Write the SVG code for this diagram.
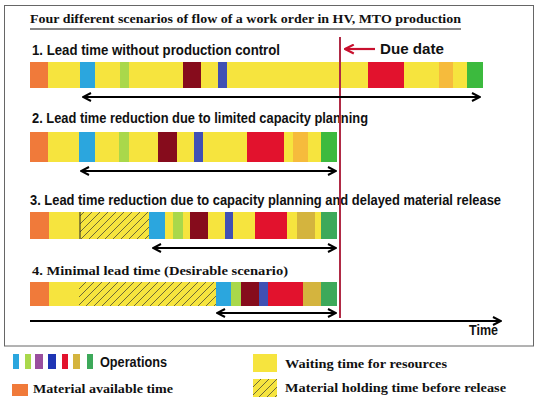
<svg xmlns="http://www.w3.org/2000/svg" width="556" height="408" viewBox="0 0 556 408">
<style>
.o{fill:#f07a3a}.y{fill:#f6e43e}.b{fill:#2ba6de}.lg{fill:#a9d84b}.dr{fill:#860c1c}.ind{fill:#4050b4}.r{fill:#e2122d}.or{fill:#f6bb3c}.g{fill:#3cba3e}.gd{fill:#d4b43e}.g2{fill:#3da95a}.pu{fill:#9a4f9e}.nv{fill:#1f35b4}
.h{fill:url(#hatch)}
.sans{font-family:"Liberation Sans",Arial,sans-serif;font-weight:bold;fill:#111}
.serif{font-family:"Liberation Serif","DejaVu Serif",serif;font-weight:bold;fill:#111}
.arr{stroke:#000;stroke-width:2;fill:none}
</style>
<defs>
<pattern id="hatch" patternUnits="userSpaceOnUse" width="8" height="8">
<rect width="8" height="8" fill="#f6e43e"/>
<path d="M-2,10 L10,-2 M-2,2 L2,-2 M6,10 L10,6" stroke="#333" stroke-width="0.7"/>
</pattern>
<marker id="ah" viewBox="0 0 10 10" refX="9" refY="5" markerWidth="5" markerHeight="5" orient="auto-start-reverse" markerUnits="strokeWidth">
<path d="M1,1 L9,5 L1,9" fill="none" stroke="#000" stroke-width="2"/>
</marker>
<marker id="ahr" viewBox="0 0 10 10" refX="9" refY="5" markerWidth="5" markerHeight="5" orient="auto-start-reverse" markerUnits="strokeWidth">
<path d="M1,1 L9,5 L1,9" fill="none" stroke="#c8102e" stroke-width="2"/>
</marker>
</defs>
<rect width="556" height="408" fill="#fff"/>
<rect x="4.5" y="5.5" width="529" height="340.5" fill="none" stroke="#666" stroke-width="1"/>
<g id="title">
<text class="serif" x="30" y="23" font-size="13.5" textLength="431" lengthAdjust="spacingAndGlyphs">Four different scenarios of flow of a work order in HV, MTO production</text>
<line x1="30" y1="29" x2="461" y2="29" stroke="#111" stroke-width="1.2"/>
</g>
<g id="scenario1">
<text class="sans" x="32" y="55" font-size="14" textLength="248" lengthAdjust="spacingAndGlyphs">1. Lead time without production control</text>
<rect class="y" x="30" y="62" width="453" height="26"/>
<rect class="o" x="30" y="62" width="18" height="26"/>
<rect class="b" x="80" y="62" width="15" height="26"/>
<rect class="lg" x="120" y="62" width="9" height="26"/>
<rect class="dr" x="183" y="62" width="18" height="26"/>
<rect class="ind" x="218" y="62" width="9" height="26"/>
<rect class="r" x="368" y="62" width="36" height="26"/>
<rect class="or" x="439" y="62" width="14" height="26"/>
<rect class="g" x="467" y="62" width="16" height="26"/>
</g>
<g id="scenario2">
<text class="sans" x="32" y="123" font-size="14" textLength="336" lengthAdjust="spacingAndGlyphs">2. Lead time reduction due to limited capacity planning</text>
<rect class="y" x="30" y="132" width="307" height="30"/>
<rect class="o" x="30" y="132" width="18" height="30"/>
<rect class="b" x="79" y="132" width="16" height="30"/>
<rect class="lg" x="119" y="132" width="10" height="30"/>
<rect class="dr" x="158" y="132" width="19" height="30"/>
<rect class="ind" x="194" y="132" width="9" height="30"/>
<rect class="r" x="247" y="132" width="37" height="30"/>
<rect class="or" x="293" y="132" width="15" height="30"/>
<rect class="g" x="321" y="132" width="16" height="30"/>
</g>
<g id="scenario3">
<text class="sans" x="30" y="205" font-size="14" textLength="471" lengthAdjust="spacingAndGlyphs">3. Lead time reduction due to capacity planning and delayed material release</text>
<rect class="y" x="30" y="212" width="307" height="27"/>
<rect class="o" x="30" y="212" width="19" height="27"/>
<rect class="h" x="80" y="212" width="69" height="27"/>
<line x1="80" y1="212" x2="80" y2="239" stroke="#222" stroke-width="1"/>
<rect class="b" x="149" y="212" width="16" height="27"/>
<rect class="lg" x="173" y="212" width="10" height="27"/>
<rect class="dr" x="190" y="212" width="18" height="27"/>
<rect class="ind" x="225" y="212" width="8" height="27"/>
<rect class="r" x="255" y="212" width="32" height="27"/>
<rect class="gd" x="297" y="212" width="18" height="27"/>
<rect class="g2" x="321" y="212" width="16" height="27"/>
</g>
<g id="scenario4">
<text class="serif" x="32" y="275" font-size="13.5" textLength="256" lengthAdjust="spacingAndGlyphs">4. Minimal lead time (Desirable scenario)</text>
<rect class="y" x="30" y="282" width="307" height="24"/>
<rect class="o" x="30" y="282" width="19" height="24"/>
<rect class="h" x="79" y="282" width="137" height="24"/>
<rect class="b" x="216" y="282" width="15" height="24"/>
<rect class="lg" x="231" y="282" width="10" height="24"/>
<rect class="dr" x="241" y="282" width="18" height="24"/>
<rect class="ind" x="259" y="282" width="9" height="24"/>
<rect class="r" x="268" y="282" width="35" height="24"/>
<rect class="gd" x="303" y="282" width="18" height="24"/>
<rect class="g2" x="321" y="282" width="16" height="24"/>
</g>
<g id="due-date">
<line x1="340" y1="37" x2="340" y2="318" stroke="#b02a45" stroke-width="2"/>
<line x1="375" y1="49" x2="345" y2="49" stroke="#c8102e" stroke-width="2.2" marker-end="url(#ahr)"/>
<text class="sans" x="380" y="54" font-size="14" textLength="64" lengthAdjust="spacingAndGlyphs">Due date</text>
</g>
<g id="connectors">
<line class="arr" x1="83" y1="97" x2="480" y2="97" marker-start="url(#ah)" marker-end="url(#ah)"/>
<line class="arr" x1="81" y1="171" x2="336" y2="171" marker-start="url(#ah)" marker-end="url(#ah)"/>
<line class="arr" x1="153" y1="248" x2="336" y2="248" marker-start="url(#ah)" marker-end="url(#ah)"/>
<line class="arr" x1="217" y1="313" x2="336" y2="313" marker-start="url(#ah)" marker-end="url(#ah)"/>
<line class="arr" x1="30" y1="321" x2="501" y2="321" marker-end="url(#ah)"/>
</g>
<g id="time-label">
<text class="sans" x="469" y="335" font-size="14" textLength="29" lengthAdjust="spacingAndGlyphs">Time</text>
</g>
<g id="legend">
<rect class="b" x="13" y="354" width="6" height="15"/>
<rect class="lg" x="25" y="354" width="6" height="15"/>
<rect class="pu" x="35" y="354" width="8" height="15"/>
<rect class="nv" x="48" y="354" width="8" height="15"/>
<rect class="r" x="62" y="354" width="6" height="15"/>
<rect class="gd" x="73" y="354" width="7" height="15"/>
<rect class="g2" x="87" y="354" width="6" height="15"/>
<text class="sans" x="100" y="367" font-size="14" textLength="67" lengthAdjust="spacingAndGlyphs">Operations</text>
<rect class="o" x="12" y="384" width="16" height="12"/>
<text class="serif" x="33" y="393" font-size="13.5" textLength="140" lengthAdjust="spacingAndGlyphs">Material available time</text>
<rect class="y" x="253" y="354" width="24" height="18"/>
<text class="serif" x="285" y="368" font-size="13.5" textLength="162" lengthAdjust="spacingAndGlyphs">Waiting time for resources</text>
<rect class="h" x="253" y="379" width="24" height="18"/>
<text class="serif" x="285" y="392" font-size="13.5" textLength="221" lengthAdjust="spacingAndGlyphs">Material holding time before release</text>
</g>
</svg>
